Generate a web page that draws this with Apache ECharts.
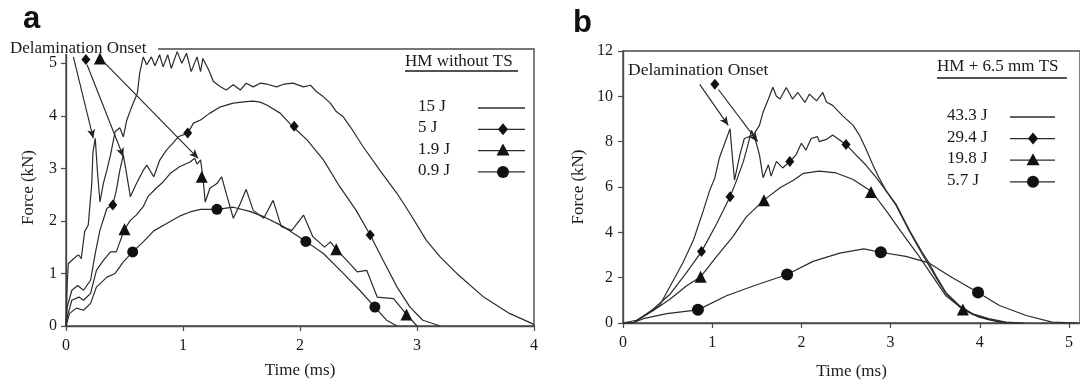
<!DOCTYPE html>
<html><head><meta charset="utf-8">
<script src="https://cdn.jsdelivr.net/npm/echarts@6/dist/echarts.min.js"></script>
<style>html,body{margin:0;padding:0;background:#fff}#c{width:1080px;height:385px}</style>
</head><body><div id="c"></div>
<script>
// ---------- Panel a: HM without TS ----------
const aXTicks = [0, 1, 2, 3, 4];
const aYTicks = [0, 1, 2, 3, 4, 5];
const aLegendTitle = 'HM without TS';
const aNames = ['15 J', '5 J', '1.9 J', '0.9 J'];
const a15 = [[0,0],[0.01,0.8],[0.02,1.19],[0.06,1.27],[0.09,1.33],[0.11,1.35],[0.13,1.28],[0.16,1.8],[0.19,1.92],[0.22,2.7],[0.23,3.3],[0.25,3.57],[0.27,2.9],[0.29,2.36],[0.32,2.72],[0.35,2.97],[0.38,3.25],[0.42,3.7],[0.46,3.77],[0.49,3.6],[0.52,3.92],[0.56,4.16],[0.61,4.43],[0.63,4.81],[0.66,5.12],[0.69,4.97],[0.73,5.12],[0.76,4.95],[0.8,5.16],[0.83,4.93],[0.87,5.16],[0.9,4.9],[0.95,5.22],[0.99,5.0],[1.03,5.19],[1.07,4.84],[1.12,5.12],[1.15,4.84],[1.17,5.09],[1.22,4.87],[1.26,4.65],[1.32,4.55],[1.37,4.49],[1.43,4.59],[1.49,4.49],[1.54,4.62],[1.6,4.55],[1.66,4.62],[1.72,4.6],[1.8,4.55],[1.86,4.6],[1.94,4.62],[2.03,4.55],[2.09,4.58],[2.14,4.46],[2.2,4.36],[2.26,4.24],[2.31,4.08],[2.37,3.98],[2.43,3.79],[2.54,3.41],[2.68,2.97],[2.83,2.52],[2.94,2.14],[3.08,1.63],[3.2,1.31],[3.34,1.0],[3.57,0.55],[3.79,0.24],[3.99,0.04],[4.0,0]];
const a5 = [[0,0],[0.01,0.36],[0.05,0.68],[0.1,0.77],[0.15,0.68],[0.21,0.87],[0.25,1.38],[0.29,1.82],[0.35,2.24],[0.4,2.3],[0.43,2.58],[0.46,2.96],[0.49,3.25],[0.51,3.0],[0.55,2.46],[0.6,2.7],[0.66,2.96],[0.69,3.06],[0.75,2.84],[0.8,3.15],[0.86,3.35],[0.91,3.47],[0.96,3.6],[1.04,3.67],[1.09,3.86],[1.15,3.92],[1.23,4.05],[1.32,4.17],[1.43,4.24],[1.54,4.27],[1.6,4.28],[1.66,4.26],[1.72,4.2],[1.83,4.05],[1.94,3.79],[2.06,3.54],[2.2,3.16],[2.34,2.65],[2.48,2.2],[2.6,1.73],[2.71,1.25],[2.83,0.74],[2.94,0.36],[3.05,0.11],[3.2,0]];
const a19 = [[0,0],[0.01,0.17],[0.05,0.49],[0.11,0.55],[0.15,0.49],[0.21,0.62],[0.26,1.06],[0.32,1.25],[0.38,1.41],[0.43,1.41],[0.5,1.84],[0.55,2.01],[0.6,2.11],[0.66,2.27],[0.7,2.46],[0.77,2.62],[0.83,2.74],[0.89,2.9],[0.97,3.03],[1.06,3.12],[1.1,3.19],[1.12,3.08],[1.15,3.16],[1.17,2.84],[1.19,2.36],[1.23,2.62],[1.29,2.71],[1.33,2.84],[1.37,2.52],[1.43,2.05],[1.49,2.33],[1.54,2.6],[1.6,2.2],[1.69,2.05],[1.77,2.39],[1.84,1.89],[1.93,1.82],[2.03,2.11],[2.11,1.7],[2.21,1.5],[2.26,1.6],[2.31,1.46],[2.4,1.25],[2.49,1.03],[2.57,1.06],[2.66,0.55],[2.8,0.52],[2.91,0.22],[3.0,0]];
const a09 = [[0,0],[0.03,0.24],[0.09,0.34],[0.15,0.3],[0.21,0.43],[0.26,0.74],[0.35,0.93],[0.42,1.0],[0.49,1.22],[0.57,1.41],[0.66,1.6],[0.75,1.81],[0.86,1.95],[0.97,2.09],[1.06,2.17],[1.15,2.22],[1.29,2.22],[1.43,2.26],[1.57,2.18],[1.69,2.08],[1.86,1.89],[2.05,1.61],[2.2,1.38],[2.37,1.0],[2.51,0.68],[2.64,0.36],[2.74,0.11],[2.83,0]];
const aMk5 = [[0.40,2.3],[1.04,3.67],[1.95,3.8],[2.6,1.73]];
const aMk19 = [[0.5,1.84],[1.16,2.84],[2.31,1.46],[2.91,0.22]];
const aMk09 = [[0.57,1.41],[1.29,2.22],[2.05,1.61],[2.64,0.36]];
const aAnnoText = 'Delamination Onset';
const aArrows = [[[0.063,5.12],[0.233,3.57]],[[0.18,4.97],[0.49,3.22]],[[0.32,5.03],[1.13,3.19]]];
const aAnnoDiamond = [[0.17,5.07]];
const aAnnoTriangle = [[0.29,5.09]];

// ---------- Panel b: HM + 6.5 mm TS ----------
const bXTicks = [0, 1, 2, 3, 4, 5];
const bYTicks = [0, 2, 4, 6, 8, 10, 12];
const bLegendTitle = 'HM + 6.5 mm TS';
const bNames = ['43.3 J', '29.4 J', '19.8 J', '5.7 J'];
const b433 = [[0,0],[0.15,0.12],[0.27,0.41],[0.41,0.77],[0.53,1.63],[0.67,2.65],[0.79,3.66],[0.9,4.96],[0.97,5.83],[1.03,6.41],[1.08,7.28],[1.16,8.14],[1.2,8.57],[1.22,7.6],[1.25,6.3],[1.31,7.42],[1.36,8.14],[1.46,8.29],[1.53,8.72],[1.57,9.3],[1.63,9.88],[1.68,10.4],[1.72,10.0],[1.76,9.88],[1.83,10.39],[1.9,9.88],[1.96,10.17],[2.04,9.73],[2.09,10.1],[2.17,9.8],[2.24,10.17],[2.28,9.75],[2.35,9.6],[2.46,9.15],[2.58,8.72],[2.65,8.29],[2.72,7.71],[2.8,6.98],[2.87,6.41],[2.95,5.83],[3.06,5.25],[3.21,4.1],[3.36,3.08],[3.43,2.65],[3.51,2.07],[3.62,1.34],[3.77,0.77],[3.92,0.41],[4.1,0.19],[4.29,0.04],[4.5,0]];
const b294 = [[0,0],[0.12,0.02],[0.19,0.19],[0.34,0.62],[0.53,1.28],[0.71,2.21],[0.88,3.15],[1.05,4.38],[1.2,5.57],[1.27,6.26],[1.35,7.13],[1.4,7.85],[1.44,8.5],[1.48,8.14],[1.53,7.42],[1.57,6.41],[1.63,6.98],[1.66,6.48],[1.72,7.13],[1.79,6.84],[1.87,7.13],[1.94,7.42],[2.0,7.93],[2.05,7.63],[2.11,8.14],[2.18,8.22],[2.2,8.0],[2.28,8.1],[2.35,8.29],[2.42,8.1],[2.5,7.88],[2.61,7.42],[2.72,6.98],[2.84,6.41],[2.95,5.83],[3.06,5.2],[3.21,4.05],[3.36,3.0],[3.51,2.0],[3.62,1.3],[3.77,0.72],[3.92,0.38],[4.1,0.15],[4.3,0.02],[4.45,0]];
const b198 = [[0,0],[0.12,0.02],[0.19,0.19],[0.34,0.55],[0.53,1.06],[0.71,1.63],[0.87,2.04],[1.05,2.94],[1.23,3.8],[1.38,4.67],[1.58,5.42],[1.76,5.97],[1.91,6.3],[2.02,6.6],[2.2,6.7],[2.39,6.62],[2.58,6.33],[2.72,5.97],[2.79,5.79],[2.95,4.96],[3.13,3.95],[3.32,2.94],[3.47,2.07],[3.62,1.2],[3.81,0.6],[3.99,0.26],[4.22,0.04],[4.35,0]];
const b57 = [[0,0],[0.12,0.02],[0.23,0.19],[0.49,0.41],[0.84,0.58],[1.16,1.2],[1.46,1.63],[1.84,2.14],[2.13,2.72],[2.43,3.08],[2.7,3.27],[2.89,3.12],[3.17,2.94],[3.43,2.65],[3.66,2.07],[3.98,1.35],[4.22,0.77],[4.52,0.33],[4.81,0.04],[5.1,0]];
const bMk294 = [[0.88,3.15],[1.2,5.57],[1.87,7.13],[2.5,7.88]];
const bMk198 = [[0.87,2.04],[1.58,5.42],[2.78,5.78],[3.81,0.6]];
const bMk57 = [[0.84,0.58],[1.84,2.14],[2.89,3.12],[3.98,1.35]];
const bAnnoText = 'Delamination Onset';
const bArrows = [[[0.86,10.53],[1.18,8.72]],[[1.07,10.3],[1.51,8.0]]];
const bAnnoDiamond = [[1.03,10.53]];

const xName = 'Time (ms)';
const yName = 'Force (kN)';

// ---------- styling ----------
const SERIF = '"Liberation Serif", "DejaVu Serif", serif';
const INK = '#1a1a1a';
const LINE = '#2b2b2b';
const AXIS = '#4a4a4a';

function axisCommon(ticks, margin) {
  return {
    axisLine: { show: true, onZero: false, lineStyle: { color: AXIS, width: 1.4 } },
    axisTick: { show: true, inside: false, length: 5, customValues: ticks, lineStyle: { color: AXIS, width: 1.2 } },
    axisLabel: { customValues: ticks, margin: margin, color: INK, fontFamily: SERIF, fontSize: 16,
      formatter: v => (ticks.indexOf(Number(v)) >= 0 ? String(v) : '') },
    splitLine: { show: false },
    nameTextStyle: { color: INK, fontFamily: SERIF, fontSize: 17 }
  };
}

function lineSeries(name, data, xi) {
  return { name, type: 'line', data, xAxisIndex: xi, yAxisIndex: xi, showSymbol: false, symbol: 'none',
    lineStyle: { color: LINE, width: 1.2 }, silent: true, z: 3 };
}
function markSeries(data, xi, symbol, size, z) {
  return { type: 'scatter', data, xAxisIndex: xi, yAxisIndex: xi, symbol, symbolSize: size,
    itemStyle: { color: '#111', opacity: 1 }, silent: true, z: z || 5 };
}
function arrowSeries(arrows, xi) {
  return { type: 'line', data: [], xAxisIndex: xi, yAxisIndex: xi, silent: true,
    markLine: { silent: true, symbol: ['none', 'arrow'], symbolSize: [6, 9], animation: false,
      label: { show: false }, lineStyle: { color: '#222', width: 1.1, type: 'solid' },
      emphasis: { disabled: true },
      data: arrows.map(a => [{ coord: a[0] }, { coord: a[1] }]) } };
}

// legend block drawn with graphic elements
function legendBlock(title, names, tx, ty, ux1, ux2, uy, ex, ey0, dy, lx1, lx2, mx) {
  const els = [];
  els.push({ type: 'text', left: tx, top: ty - 10, z: 100,
    style: { text: title, fill: INK, font: '17px ' + SERIF } });
  els.push({ type: 'line', z: 100, shape: { x1: ux1, y1: uy, x2: ux2, y2: uy }, style: { stroke: INK, lineWidth: 1.3 } });
  const syms = ['none', 'diamond', 'triangle', 'circle'];
  names.forEach((n, i) => {
    const y = ey0 + i * dy;
    els.push({ type: 'text', left: ex, top: y - 10, z: 100, style: { text: n, fill: INK, font: '17px ' + SERIF } });
    els.push({ type: 'line', z: 100, shape: { x1: lx1, y1: y, x2: lx2, y2: y }, style: { stroke: LINE, lineWidth: 1.3 } });
    const s = syms[i];
    if (s === 'diamond') els.push({ type: 'polygon', z: 101, shape: { points: [[mx, y - 6], [mx + 5, y], [mx, y + 6], [mx - 5, y]] }, style: { fill: '#111' } });
    if (s === 'triangle') els.push({ type: 'polygon', z: 101, shape: { points: [[mx, y - 7], [mx + 6.5, y + 5], [mx - 6.5, y + 5]] }, style: { fill: '#111' } });
    if (s === 'circle') els.push({ type: 'circle', z: 101, shape: { cx: mx, cy: y, r: 6 }, style: { fill: '#111' } });
  });
  return els;
}

const option = {
  animation: false,
  backgroundColor: '#fff',
  grid: [
    { left: 66, top: 49, width: 468, height: 277, show: true, borderColor: AXIS, borderWidth: 1.4, backgroundColor: 'transparent' },
    { left: 623, top: 51, width: 458, height: 277, show: true, borderColor: AXIS, borderWidth: 1.4, backgroundColor: 'transparent' }
  ],
  xAxis: [
    Object.assign(axisCommon(aXTicks, 12), { type: 'value', gridIndex: 0, min: 0, max: 4, interval: 1,
      name: xName, nameLocation: 'middle', nameGap: 36 }),
    Object.assign(axisCommon(bXTicks, 12), { type: 'value', gridIndex: 1, min: 0, max: 5.123, interval: 1,
      name: xName, nameLocation: 'middle', nameGap: 40 })
  ],
  yAxis: [
    Object.assign(axisCommon(aYTicks, 9), { type: 'value', gridIndex: 0, min: 0, max: 5.27, interval: 1,
      name: yName, nameLocation: 'middle', nameGap: 29 }),
    Object.assign(axisCommon(bYTicks, 10), { type: 'value', gridIndex: 1, min: 0, max: 12, interval: 2,
      name: yName, nameLocation: 'middle', nameGap: 36 })
  ],
  series: [
    lineSeries(aNames[0], a15, 0), lineSeries(aNames[1], a5, 0), lineSeries(aNames[2], a19, 0), lineSeries(aNames[3], a09, 0),
    markSeries(aMk5, 0, 'diamond', [9, 11]), markSeries(aMk19, 0, 'triangle', 12), markSeries(aMk09, 0, 'circle', 11),
    markSeries(aAnnoDiamond, 0, 'diamond', [9, 11], 120), markSeries(aAnnoTriangle, 0, 'triangle', 12, 120),
    arrowSeries(aArrows, 0),
    lineSeries(bNames[0], b433, 1), lineSeries(bNames[1], b294, 1), lineSeries(bNames[2], b198, 1), lineSeries(bNames[3], b57, 1),
    markSeries(bMk294, 1, 'diamond', [9, 11]), markSeries(bMk198, 1, 'triangle', 12), markSeries(bMk57, 1, 'circle', 12),
    markSeries(bAnnoDiamond, 1, 'diamond', [9, 11]),
    arrowSeries(bArrows, 1)
  ],
  graphic: [].concat(
    [{ type: 'text', left: 23, top: 4, z: 100, style: { text: 'a', fill: '#111', font: '900 31px "Liberation Sans", Arial, sans-serif' } },
     { type: 'text', left: 573, top: 8, z: 100, style: { text: 'b', fill: '#111', font: '900 31px "Liberation Sans", Arial, sans-serif' } },
     { type: 'rect', z: 99, shape: { x: 8, y: 40, width: 150, height: 14 }, style: { fill: '#fff' } },
     { type: 'text', left: 10, top: 40, z: 100, style: { text: aAnnoText, fill: INK, font: '17px ' + SERIF } },
     { type: 'text', left: 628, top: 61, z: 100, style: { text: bAnnoText, fill: INK, font: '17.5px ' + SERIF } }],
    legendBlock(aLegendTitle, aNames, 405, 63, 405, 518, 71, 418, 108, 21.3, 478, 525, 503),
    legendBlock(bLegendTitle, bNames, 937, 68, 937, 1067, 78, 947, 117, 21.6, 1010, 1055, 1033)
  )
};

const chart = echarts.init(document.getElementById('c'), null, { renderer: 'canvas' });
chart.setOption(option);
</script>
</body></html>
